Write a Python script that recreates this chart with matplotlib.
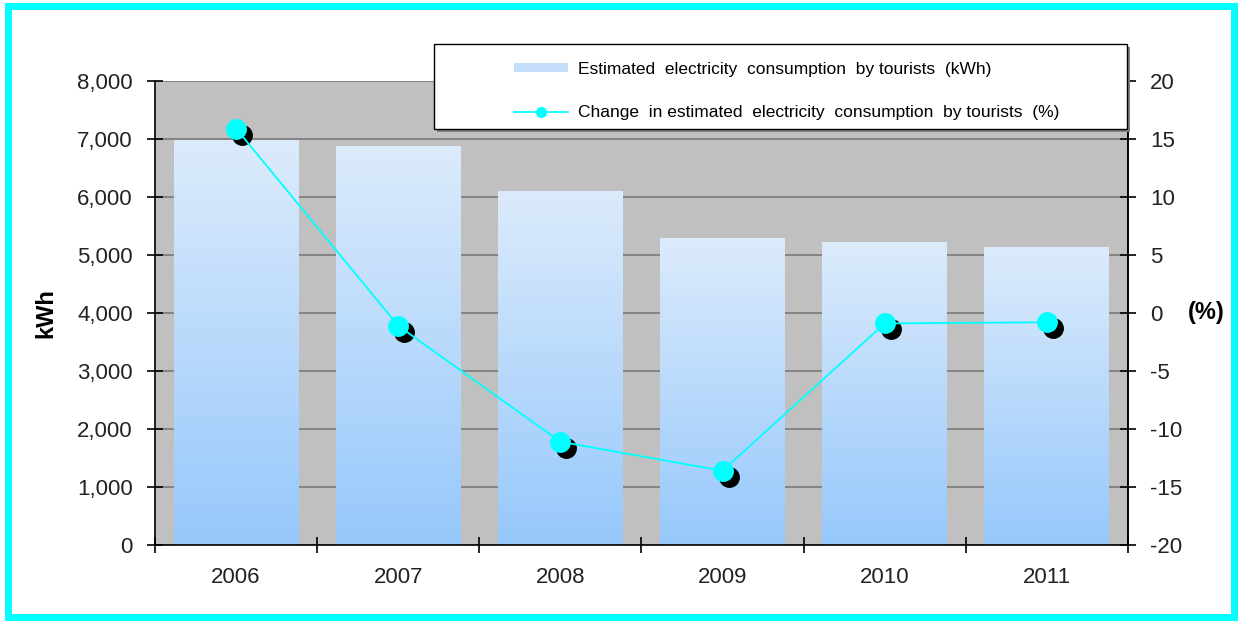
import matplotlib.pyplot as plt
import numpy as np
from matplotlib.patches import Rectangle, Patch
from matplotlib.lines import Line2D
from matplotlib.colors import LinearSegmentedColormap
import matplotlib.transforms as mtrans

plt.rcParams['font.family'] = ['Liberation Sans', 'DejaVu Sans']
plt.rcParams['axes.unicode_minus'] = False

years = ['2006', '2007', '2008', '2009', '2010', '2011']
kwh = [6980, 6880, 6110, 5300, 5230, 5130]
change_pct = [15.9, -1.1, -11.1, -13.6, -0.9, -0.8]

fig = plt.figure(figsize=(12.38, 6.22), dpi=100)
ax = fig.add_axes([0.1252, 0.1238, 0.7859, 0.746])
ax.set_facecolor('#c0c0c0')

x = np.arange(len(years))
grad = LinearSegmentedColormap.from_list('g', ['#96c8fb', '#dcebfc'])

bars = ax.bar(x, kwh, width=0.77, color='none', edgecolor='none', zorder=2)
for b in bars:
    x0, y0 = b.get_x(), b.get_y()
    img = ax.imshow(np.linspace(0, 1, 256).reshape(-1, 1), cmap=grad, origin='lower',
                    extent=[x0, x0 + b.get_width(), y0, y0 + b.get_height()],
                    aspect='auto', zorder=2)
    img.set_clip_path(b)

ax.set_xlim(-0.5, 5.5)
ax.set_ylim(0, 8000)
ax.set_yticks(range(0, 8001, 1000))
ax.set_yticklabels([f'{v:,}' for v in range(0, 8001, 1000)])
ax.yaxis.grid(True, color='#7f7f7f', linewidth=1.3, zorder=1)
ax.set_axisbelow(True)
ax.set_xticks(x)
ax.set_xticklabels(years)
ax.tick_params(axis='x', which='major', length=0, pad=16, labelsize=16, labelcolor='#222222')
ax.set_xticks(np.arange(-0.5, 6, 1), minor=True)
ax.tick_params(axis='x', which='minor', direction='inout', length=12, width=1.2)
ax.tick_params(axis='y', direction='inout', length=12, width=1.2, pad=10, labelsize=16,
               labelcolor='#222222')
ax.spines['top'].set_visible(False)
for s in ['left', 'bottom', 'right']:
    ax.spines[s].set_linewidth(1.2)
ax.set_ylabel('kWh', fontsize=17, fontweight='bold', labelpad=14)

ax2 = ax.twinx()
ax2.set_ylim(-20, 20)
ax2.set_yticks(range(-20, 21, 5))
ax2.tick_params(axis='y', direction='inout', length=12, width=1.2, pad=10, labelsize=16,
                labelcolor='#222222')
for s in ['top', 'left', 'bottom']:
    ax2.spines[s].set_visible(False)
ax2.spines['right'].set_linewidth(1.2)

shadow = mtrans.offset_copy(ax2.transData, fig=fig, x=6, y=-6, units='dots')
ax2.plot(x, change_pct, 'o', color='black', markersize=14, transform=shadow, zorder=3)
ax2.plot(x, change_pct, '-o', color='#00ffff', linewidth=1.3, markersize=14, zorder=4)

fig.text(1206 / 1238, 1 - 312 / 622, '(%)', fontsize=17, fontweight='bold',
         ha='center', va='center')

# legend box with shadow
lx0, ly0, lw, lh = 434 / 1238, 1 - 129 / 622, 693 / 1238, 85 / 622
fig.patches.append(Rectangle((lx0 + 3 / 1238, ly0 - 3 / 622), lw, lh, transform=fig.transFigure,
                             facecolor='#808080', edgecolor='none', zorder=5))
fig.patches.append(Rectangle((lx0, ly0), lw, lh, transform=fig.transFigure,
                             facecolor='white', edgecolor='black', linewidth=1, zorder=6))
handles = [Patch(facecolor='#c4ddf9', edgecolor='none'),
           Line2D([0], [0], color='#00ffff', marker='o', markersize=7, linewidth=1.3)]
labels = ['Estimated  electricity  consumption  by tourists  (kWh)',
          'Change  in estimated  electricity  consumption  by tourists  (%)']
leg = fig.legend(handles, labels, loc='upper left', bbox_to_anchor=(498 / 1238, 1 - 46 / 622),
                 frameon=False, fontsize=12.5, labelspacing=1.65, handlelength=3.15,
                 handleheight=0.4, handletextpad=0.57)
leg.set_zorder(7)

fig.patches.append(Rectangle((8 / 1238, 5 / 622), 1226 / 1238, 611 / 622, transform=fig.transFigure,
                             facecolor='none', edgecolor='#00ffff', linewidth=5, zorder=10))

fig.savefig('out.png', dpi=100)
